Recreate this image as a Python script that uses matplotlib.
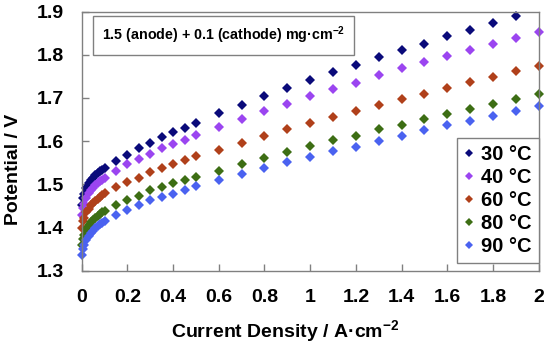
import matplotlib
matplotlib.use("Agg")
import matplotlib.pyplot as plt

plt.rcParams['font.family'] = ['Liberation Sans', 'DejaVu Sans']
plt.rcParams['font.weight'] = 'bold'
plt.rcParams['mathtext.fontset'] = 'custom'
plt.rcParams['mathtext.rm'] = 'Liberation Sans:bold'
plt.rcParams['mathtext.bf'] = 'Liberation Sans:bold'
plt.rcParams['mathtext.default'] = 'bf'

current = [0, 0.005, 0.01, 0.02, 0.03, 0.04, 0.05, 0.06, 0.07, 0.08, 0.09, 0.10,
           0.15, 0.20, 0.25, 0.30, 0.35, 0.40, 0.45, 0.50,
           0.6, 0.7, 0.8, 0.9, 1.0, 1.1, 1.2, 1.3, 1.4, 1.5, 1.6, 1.7, 1.8, 1.9, 2.0]

v30 = [1.452, 1.468, 1.478, 1.492, 1.502, 1.509, 1.515, 1.521, 1.526, 1.530, 1.534, 1.538,
       1.555, 1.569, 1.583, 1.596, 1.609, 1.620, 1.631, 1.642,
       1.664, 1.684, 1.704, 1.722, 1.742, 1.759, 1.777, 1.794, 1.810, 1.826, 1.843, 1.858, 1.874, 1.889]
v40 = [1.428, 1.445, 1.455, 1.469, 1.479, 1.486, 1.492, 1.498, 1.503, 1.507, 1.511, 1.515,
       1.532, 1.546, 1.559, 1.571, 1.583, 1.594, 1.603, 1.614,
       1.633, 1.651, 1.669, 1.686, 1.704, 1.720, 1.735, 1.752, 1.769, 1.783, 1.796, 1.810, 1.826, 1.839, 1.853]
v60 = [1.400, 1.414, 1.423, 1.435, 1.444, 1.451, 1.457, 1.462, 1.467, 1.471, 1.475, 1.479,
       1.494, 1.505, 1.515, 1.528, 1.537, 1.548, 1.556, 1.565,
       1.580, 1.596, 1.612, 1.627, 1.641, 1.656, 1.669, 1.683, 1.697, 1.710, 1.723, 1.736, 1.749, 1.762, 1.774]
v80 = [1.360, 1.374, 1.383, 1.396, 1.405, 1.412, 1.418, 1.423, 1.427, 1.431, 1.435, 1.439,
       1.453, 1.464, 1.474, 1.486, 1.494, 1.503, 1.511, 1.518,
       1.532, 1.548, 1.561, 1.574, 1.588, 1.602, 1.613, 1.627, 1.638, 1.651, 1.662, 1.675, 1.686, 1.698, 1.708]
v90 = [1.337, 1.350, 1.359, 1.371, 1.380, 1.387, 1.393, 1.398, 1.403, 1.407, 1.411, 1.414,
       1.428, 1.440, 1.451, 1.463, 1.471, 1.478, 1.488, 1.495,
       1.511, 1.525, 1.538, 1.551, 1.564, 1.576, 1.587, 1.600, 1.613, 1.626, 1.638, 1.647, 1.659, 1.669, 1.682]

labels = ['30 °C', '40 °C', '60 °C', '80 °C', '90 °C']
series = [v30, v40, v60, v80, v90]
colors = ['#0a0a7a', '#9b45f0', '#b0401a', '#3d6e14', '#4a62f0']

xticks = [0, 0.2, 0.4, 0.6, 0.8, 1.0, 1.2, 1.4, 1.6, 1.8, 2.0]
xticklabels = ['0', '0.2', '0.4', '0.6', '0.8', '1', '1.2', '1.4', '1.6', '1.8', '2']
yticks = [1.3, 1.4, 1.5, 1.6, 1.7, 1.8, 1.9]
yticklabels = ['1.3', '1.4', '1.5', '1.6', '1.7', '1.8', '1.9']

fig = plt.figure(figsize=(5.5, 3.46), dpi=100)
ax = fig.add_axes([0.1485, 0.2176, 0.831, 0.749])

for vals, lab, col in zip(series, labels, colors):
    ax.plot(current[:len(vals)], vals, linestyle='none', marker='D', markersize=5.2,
            color=col, markeredgewidth=0, label=lab, clip_on=False)

ax.set_xlim(0, 2)
ax.set_ylim(1.3, 1.9)
ax.set_xticks(xticks)
ax.set_xticklabels(xticklabels, fontsize=14, fontweight='bold')
ax.set_yticks(yticks)
ax.set_yticklabels(yticklabels, fontsize=14, fontweight='bold')
ax.tick_params(axis='both', direction='in', length=5, width=1, color='#808080')
ax.tick_params(axis='x', pad=13)
ax.tick_params(axis='y', pad=13)
for s in ax.spines.values():
    s.set_color('#808080')
    s.set_linewidth(1)

ax.set_xlabel('Current Density / A·cm$^{-2}$', fontsize=14, fontweight='bold')
ax.xaxis.set_label_coords(0.445, -0.183)
ax.set_ylabel('Potential / V', fontsize=14, fontweight='bold')
ax.yaxis.set_label_coords(-0.13, 0.392)

ax.text(0.044, 0.908, '1.5 (anode) + 0.1 (cathode) mg·cm$^{-2}$', transform=ax.transAxes,
        fontsize=10.3, fontweight='bold', va='center', ha='left',
        bbox=dict(boxstyle='square,pad=0.6', facecolor='white', edgecolor='#808080', linewidth=1))

leg = ax.legend(loc='lower right', bbox_to_anchor=(1.0, 0.03), borderaxespad=0,
                prop={'size': 14.5, 'weight': 'bold'}, handlelength=0.5, handletextpad=0.35,
                labelspacing=0.2, markerscale=0.85, fancybox=False, framealpha=1,
                edgecolor='#808080', borderpad=0.35)
leg.get_frame().set_linewidth(1)

fig.savefig('out.png', dpi=100)
